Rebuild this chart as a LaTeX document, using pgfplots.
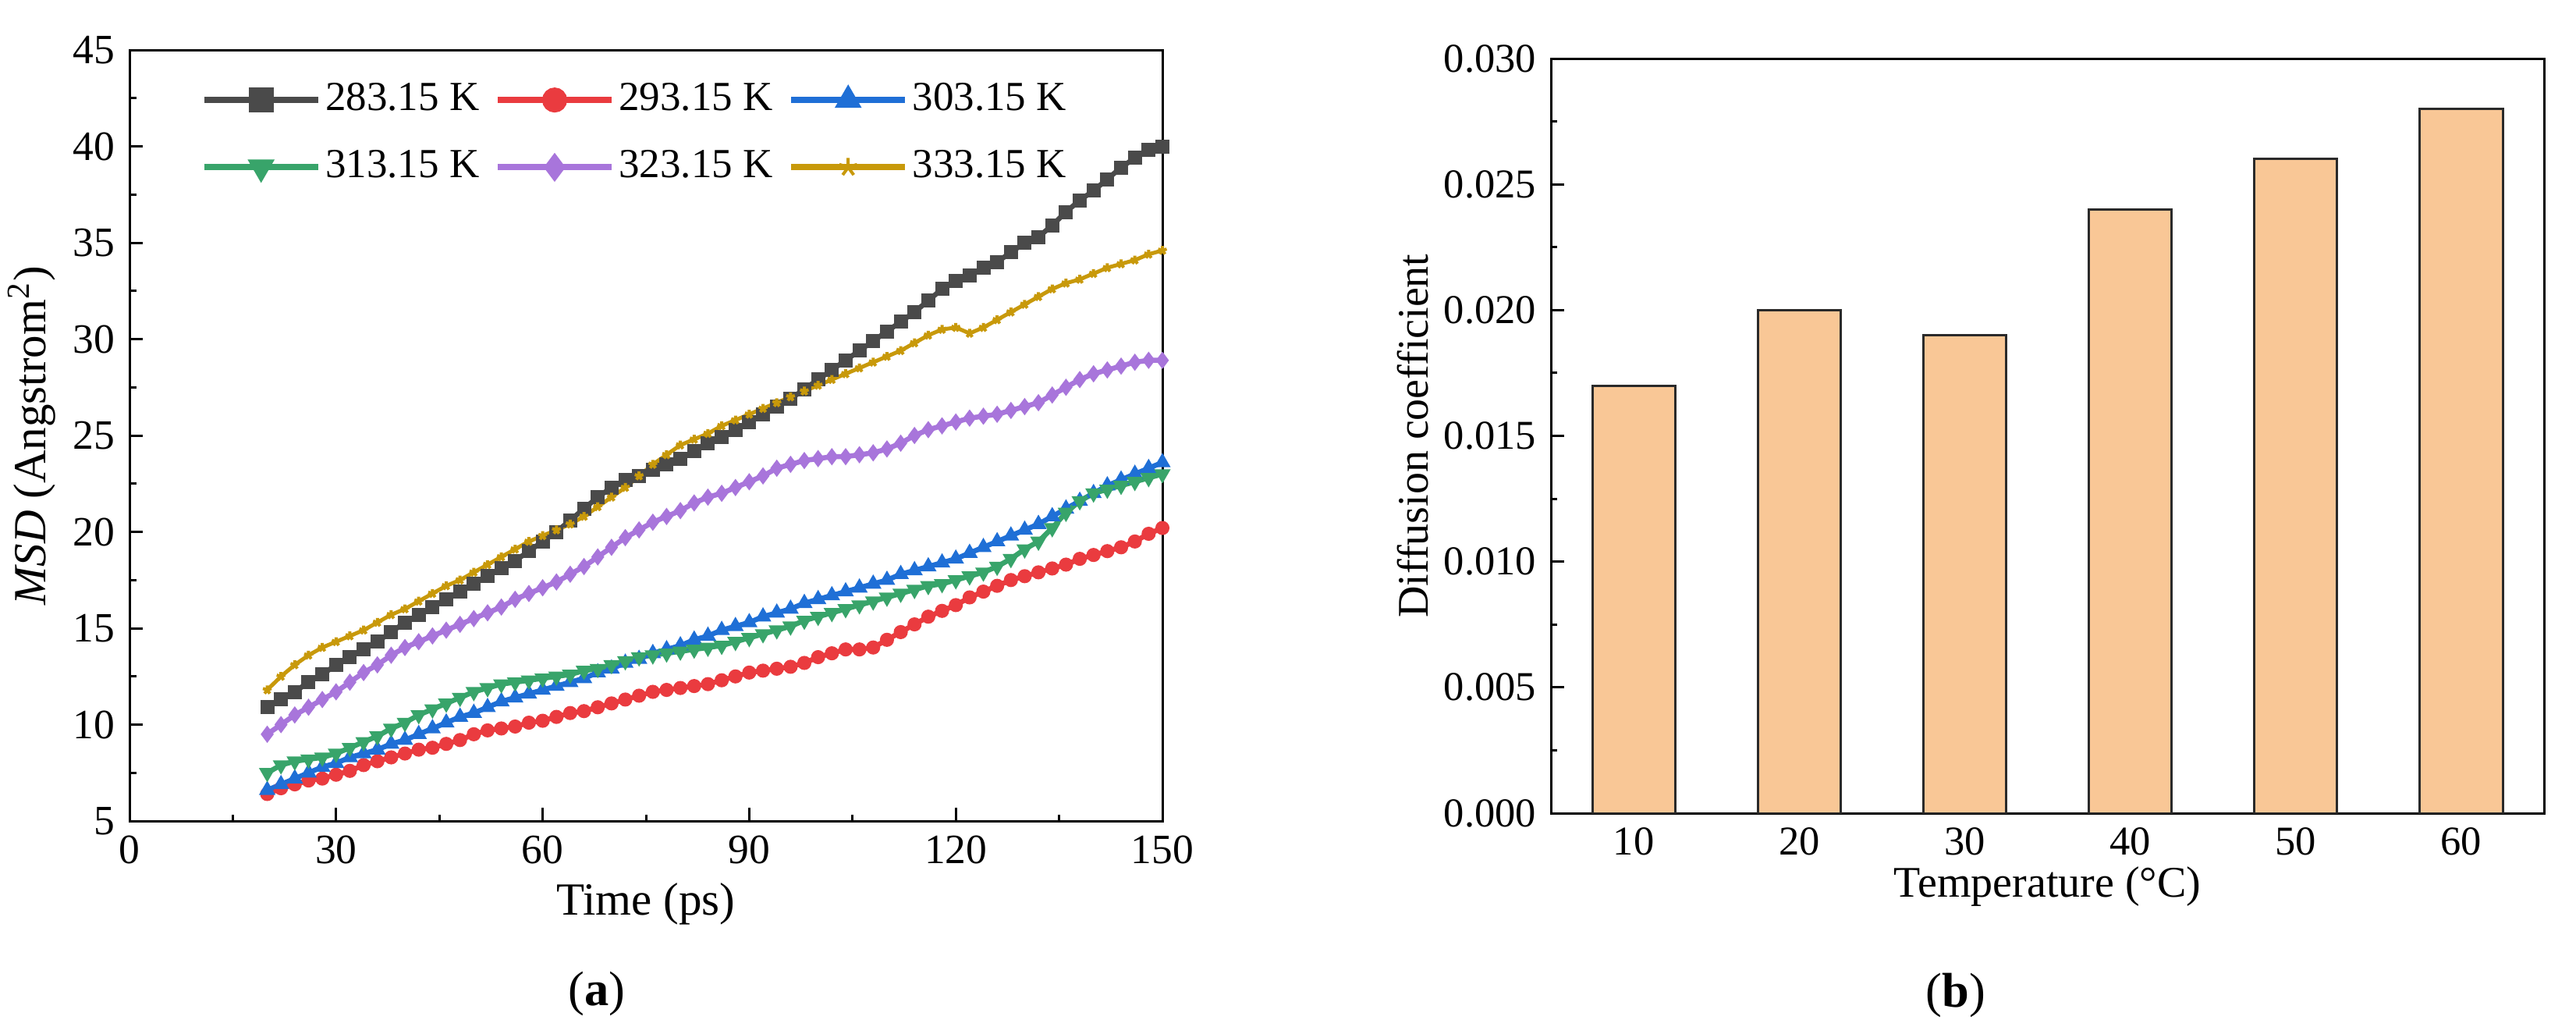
\documentclass[border=0pt]{standalone}
\usepackage{fontspec}
\setmainfont{Liberation Serif}
\usepackage{pgfplots}
\pgfplotsset{compat=1.18}
\definecolor{cblack}{HTML}{4A4A4A}
\definecolor{cred}{HTML}{EA3B3F}
\definecolor{cblue}{HTML}{1F6FD6}
\definecolor{cgreen}{HTML}{38A46A}
\definecolor{cpurple}{HTML}{A875DB}
\definecolor{cgold}{HTML}{C8990A}
\definecolor{barfill}{HTML}{F9C796}
\definecolor{baredge}{HTML}{2A2A2A}
\begin{document}
\fontsize{10.8}{13}\selectfont
\begin{tikzpicture}[x=1pt,y=1pt]
\useasboundingbox (0,0) rectangle (660.4,263);
\begin{axis}[
  at={(33.2pt,52.6pt)}, anchor=south west,
  scale only axis, width=264.8pt, height=197.6pt,
  xmin=0, xmax=150, ymin=5, ymax=45,
  xtick={0,30,...,150}, minor xtick={15,45,...,135},
  ytick={5,10,...,45}, minor ytick={7.5,12.5,...,42.5},
  tick align=inside, xtick pos=bottom, ytick pos=left,
  major tick length=3.4pt, minor tick length=1.7pt,
  axis line style={line width=0.6pt},
  every tick/.style={line width=0.6pt, black},
  /pgf/number format/assume math mode=true,
  tick label style={font=\fontsize{10.7}{13}\selectfont},
  xlabel={Time (ps)},
  ylabel={\textit{MSD} (Angstrom\textsuperscript{2})},
  label style={font=\fontsize{11.8}{13}\selectfont},
  xlabel style={at={(axis description cs:0.5,-0.108)}, anchor=center},
  ylabel style={at={(axis description cs:-0.0946,0.5)}, anchor=center},
  legend columns=3,
  legend cell align=left,
  legend style={draw=none, fill=none, at={(0.0685,0.9636)}, anchor=north west,
    inner sep=0pt,
    font=\fontsize{10.6}{13}\selectfont, row sep=6.4pt,
    nodes={inner sep=1.1pt},
    /tikz/every even column/.append style={column sep=2.8pt}},
  legend image code/.code={\draw[mark repeat=2,mark phase=2,#1,mark size=2.4pt,line width=1.6pt] plot coordinates {(0pt,0pt) (14.6pt,0pt) (29.2pt,0pt)};},
  every axis plot/.append style={line width=1.3pt, mark size=1.15pt},
]
\addplot[cblack, mark=square*] coordinates {
(20,10.9)(22,11.3)(24,11.7)(26,12.2)(28,12.6)(30,13.1)(32,13.5)(34,13.9)(36,14.3)(38,14.8)
(40,15.3)(42,15.7)(44,16.1)(46,16.5)(48,16.9)(50,17.3)(52,17.7)(54,18.1)(56,18.5)(58,19.0)
(60,19.5)(62,20.0)(64,20.6)(66,21.2)(68,21.8)(70,22.3)(72,22.7)(74,22.9)(76,23.2)(78,23.5)
(80,23.8)(82,24.2)(84,24.6)(86,24.9)(88,25.3)(90,25.7)(92,26.1)(94,26.5)(96,26.9)(98,27.4)
(100,27.9)(102,28.4)(104,28.9)(106,29.4)(108,29.9)(110,30.4)(112,30.9)(114,31.4)(116,32.0)(118,32.6)
(120,33.0)(122,33.3)(124,33.7)(126,34.0)(128,34.5)(130,35.0)(132,35.3)(134,35.9)(136,36.6)(138,37.2)
(140,37.7)(142,38.3)(144,38.9)(146,39.4)(148,39.8)(150,40.0)};
\addlegendentry{283.15 K}
\addplot[cred, mark=*] coordinates {
(20,6.4)(22,6.7)(24,6.9)(26,7.1)(28,7.2)(30,7.4)(32,7.6)(34,7.9)(36,8.1)(38,8.3)
(40,8.5)(42,8.7)(44,8.8)(46,9.0)(48,9.2)(50,9.5)(52,9.7)(54,9.8)(56,9.9)(58,10.1)
(60,10.2)(62,10.4)(64,10.6)(66,10.7)(68,10.9)(70,11.1)(72,11.3)(74,11.5)(76,11.7)(78,11.8)
(80,11.9)(82,12.0)(84,12.1)(86,12.3)(88,12.5)(90,12.7)(92,12.8)(94,12.9)(96,13.0)(98,13.2)
(100,13.5)(102,13.7)(104,13.9)(106,13.9)(108,14.0)(110,14.4)(112,14.8)(114,15.2)(116,15.6)(118,15.9)
(120,16.2)(122,16.6)(124,16.9)(126,17.2)(128,17.5)(130,17.7)(132,17.9)(134,18.1)(136,18.3)(138,18.6)
(140,18.8)(142,19.0)(144,19.2)(146,19.5)(148,19.9)(150,20.2)};
\addlegendentry{293.15 K}
\addplot[cblue, mark=triangle*] coordinates {
(20,6.6)(22,6.9)(24,7.2)(26,7.5)(28,7.8)(30,8.0)(32,8.3)(34,8.5)(36,8.7)(38,9.0)
(40,9.2)(42,9.5)(44,9.8)(46,10.1)(48,10.4)(50,10.6)(52,10.9)(54,11.2)(56,11.4)(58,11.6)
(60,11.8)(62,12.0)(64,12.2)(66,12.4)(68,12.7)(70,12.9)(72,13.2)(74,13.4)(76,13.7)(78,13.9)
(80,14.1)(82,14.4)(84,14.6)(86,14.9)(88,15.1)(90,15.3)(92,15.6)(94,15.8)(96,16.0)(98,16.3)
(100,16.5)(102,16.7)(104,16.9)(106,17.1)(108,17.3)(110,17.5)(112,17.8)(114,18.0)(116,18.2)(118,18.4)
(120,18.6)(122,18.9)(124,19.2)(126,19.5)(128,19.8)(130,20.1)(132,20.4)(134,20.8)(136,21.2)(138,21.6)
(140,22.0)(142,22.4)(144,22.7)(146,23.0)(148,23.3)(150,23.6)};
\addlegendentry{303.15 K}
\addplot[cgreen, mark=triangle*, mark options={rotate=180}] coordinates {
(20,7.5)(22,7.9)(24,8.1)(26,8.2)(28,8.3)(30,8.5)(32,8.8)(34,9.1)(36,9.4)(38,9.8)
(40,10.1)(42,10.5)(44,10.8)(46,11.1)(48,11.4)(50,11.7)(52,11.9)(54,12.1)(56,12.2)(58,12.3)
(60,12.4)(62,12.5)(64,12.6)(66,12.8)(68,12.9)(70,13.1)(72,13.3)(74,13.5)(76,13.6)(78,13.7)
(80,13.8)(82,13.9)(84,14.0)(86,14.1)(88,14.3)(90,14.5)(92,14.7)(94,14.9)(96,15.1)(98,15.4)
(100,15.6)(102,15.8)(104,16.0)(106,16.2)(108,16.4)(110,16.6)(112,16.8)(114,17.0)(116,17.2)(118,17.3)
(120,17.5)(122,17.7)(124,17.9)(126,18.2)(128,18.6)(130,19.1)(132,19.5)(134,20.2)(136,21.0)(138,21.6)
(140,22.0)(142,22.2)(144,22.4)(146,22.6)(148,22.8)(150,23.0)};
\addlegendentry{313.15 K}
\addplot[cpurple, mark=diamond*] coordinates {
(20,9.5)(22,10.0)(24,10.5)(26,10.9)(28,11.3)(30,11.7)(32,12.2)(34,12.7)(36,13.1)(38,13.6)
(40,14.0)(42,14.3)(44,14.6)(46,14.9)(48,15.2)(50,15.5)(52,15.8)(54,16.1)(56,16.5)(58,16.8)
(60,17.1)(62,17.4)(64,17.8)(66,18.2)(68,18.7)(70,19.2)(72,19.7)(74,20.1)(76,20.5)(78,20.8)
(80,21.1)(82,21.5)(84,21.8)(86,22.0)(88,22.3)(90,22.6)(92,22.9)(94,23.3)(96,23.5)(98,23.7)
(100,23.8)(102,23.9)(104,23.9)(106,24.0)(108,24.1)(110,24.3)(112,24.6)(114,25.0)(116,25.3)(118,25.5)
(120,25.7)(122,25.9)(124,26.0)(126,26.1)(128,26.3)(130,26.5)(132,26.7)(134,27.1)(136,27.5)(138,27.9)
(140,28.2)(142,28.4)(144,28.6)(146,28.8)(148,28.9)(150,28.9)};
\addlegendentry{323.15 K}
\addplot[cgold, line width=1.0pt, mark=star, mark options={line width=0.8pt}] coordinates {
(20,11.8)(22,12.5)(24,13.1)(26,13.6)(28,14.0)(30,14.3)(32,14.6)(34,14.9)(36,15.3)(38,15.7)
(40,16.0)(42,16.4)(44,16.8)(46,17.2)(48,17.5)(50,17.9)(52,18.3)(54,18.7)(56,19.1)(58,19.5)
(60,19.8)(62,20.1)(64,20.4)(66,20.8)(68,21.3)(70,21.8)(72,22.3)(74,22.9)(76,23.5)(78,24.0)
(80,24.5)(82,24.8)(84,25.1)(86,25.5)(88,25.8)(90,26.1)(92,26.4)(94,26.7)(96,27.0)(98,27.3)
(100,27.6)(102,27.9)(104,28.2)(106,28.5)(108,28.8)(110,29.1)(112,29.4)(114,29.8)(116,30.2)(118,30.5)
(120,30.6)(122,30.3)(124,30.6)(126,31.0)(128,31.4)(130,31.8)(132,32.2)(134,32.6)(136,32.9)(138,33.1)
(140,33.4)(142,33.7)(144,33.9)(146,34.1)(148,34.4)(150,34.6)};
\addlegendentry{333.15 K}
\end{axis}
\begin{axis}[
  at={(397.6pt,54.6pt)}, anchor=south west,
  scale only axis, width=254.6pt, height=193.4pt,
  xmin=5, xmax=65, ymin=0, ymax=0.03,
  ybar, bar width=5,
  xtick={10,20,...,60},
  ytick={0,0.005,...,0.0301}, minor ytick={0.0025,0.0075,...,0.0276},
  scaled y ticks=false,
  yticklabel style={/pgf/number format/.cd, fixed, fixed zerofill, precision=3},
  tick align=inside, xtick pos=bottom, ytick pos=left,
  major tick length=3.4pt, minor tick length=1.5pt,
  axis line style={line width=0.6pt},
  every tick/.style={line width=0.6pt, black},
  /pgf/number format/assume math mode=true,
  tick label style={font=\fontsize{10.5}{13}\selectfont},
  xlabel={Temperature (°C)},
  ylabel={Diffusion coefficient},
  label style={font=\fontsize{11.2}{13}\selectfont},
  xlabel style={at={(axis description cs:0.5,-0.097)}, anchor=center},
  ylabel style={at={(axis description cs:-0.139,0.5)}, anchor=center},
]
\addplot[fill=barfill, draw=baredge, line width=0.6pt] coordinates {
(10,0.017) (20,0.020) (30,0.019) (40,0.024) (50,0.026) (60,0.028)};
\end{axis}
\node[font=\fontsize{12.5}{13}\selectfont] at (153,8.4) {(\textbf{a})};
\node[font=\fontsize{12.5}{13}\selectfont] at (501.4,8.0) {(\textbf{b})};
\end{tikzpicture}
\end{document}
